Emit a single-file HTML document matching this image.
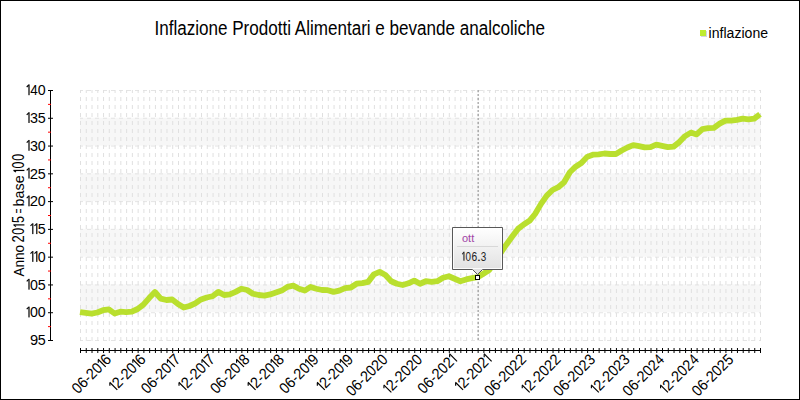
<!DOCTYPE html>
<html><head><meta charset="utf-8"><style>
html,body{margin:0;padding:0;background:#fff;width:800px;height:400px;overflow:hidden}
svg{display:block}
</style></head><body>
<svg width="800" height="400" viewBox="0 0 800 400">
<rect width="800" height="400" fill="#fff"/>
<rect x="80" y="117.78" width="681" height="27.78" fill="#f7f7f7"/>
<rect x="80" y="173.33" width="681" height="27.78" fill="#f7f7f7"/>
<rect x="80" y="228.89" width="681" height="27.78" fill="#f7f7f7"/>
<rect x="80" y="284.44" width="681" height="27.78" fill="#f7f7f7"/>
<line x1="80" y1="90.50" x2="761" y2="90.50" stroke="#e4e4e4" stroke-width="1" stroke-dasharray="4,4" stroke-dashoffset="1"/>
<line x1="80" y1="118.28" x2="761" y2="118.28" stroke="#e4e4e4" stroke-width="1" stroke-dasharray="4,4" stroke-dashoffset="1"/>
<line x1="80" y1="146.06" x2="761" y2="146.06" stroke="#e4e4e4" stroke-width="1" stroke-dasharray="4,4" stroke-dashoffset="1"/>
<line x1="80" y1="173.83" x2="761" y2="173.83" stroke="#e4e4e4" stroke-width="1" stroke-dasharray="4,4" stroke-dashoffset="1"/>
<line x1="80" y1="201.61" x2="761" y2="201.61" stroke="#e4e4e4" stroke-width="1" stroke-dasharray="4,4" stroke-dashoffset="1"/>
<line x1="80" y1="229.39" x2="761" y2="229.39" stroke="#e4e4e4" stroke-width="1" stroke-dasharray="4,4" stroke-dashoffset="1"/>
<line x1="80" y1="257.17" x2="761" y2="257.17" stroke="#e4e4e4" stroke-width="1" stroke-dasharray="4,4" stroke-dashoffset="1"/>
<line x1="80" y1="284.94" x2="761" y2="284.94" stroke="#e4e4e4" stroke-width="1" stroke-dasharray="4,4" stroke-dashoffset="1"/>
<line x1="80" y1="312.72" x2="761" y2="312.72" stroke="#e4e4e4" stroke-width="1" stroke-dasharray="4,4" stroke-dashoffset="1"/>
<line x1="80" y1="340.50" x2="761" y2="340.50" stroke="#e4e4e4" stroke-width="1" stroke-dasharray="4,4" stroke-dashoffset="1"/>
<line x1="80.50" y1="90" x2="80.50" y2="341" stroke="#e0e0e0" stroke-width="1" stroke-dasharray="4,4" stroke-dashoffset="1"/>
<line x1="86.26" y1="90" x2="86.26" y2="341" stroke="#e0e0e0" stroke-width="1" stroke-dasharray="4,4" stroke-dashoffset="1"/>
<line x1="92.03" y1="90" x2="92.03" y2="341" stroke="#e0e0e0" stroke-width="1" stroke-dasharray="4,4" stroke-dashoffset="1"/>
<line x1="97.79" y1="90" x2="97.79" y2="341" stroke="#e0e0e0" stroke-width="1" stroke-dasharray="4,4" stroke-dashoffset="1"/>
<line x1="103.55" y1="90" x2="103.55" y2="341" stroke="#e0e0e0" stroke-width="1" stroke-dasharray="4,4" stroke-dashoffset="1"/>
<line x1="109.31" y1="90" x2="109.31" y2="341" stroke="#e0e0e0" stroke-width="1" stroke-dasharray="4,4" stroke-dashoffset="1"/>
<line x1="115.08" y1="90" x2="115.08" y2="341" stroke="#e0e0e0" stroke-width="1" stroke-dasharray="4,4" stroke-dashoffset="1"/>
<line x1="120.84" y1="90" x2="120.84" y2="341" stroke="#e0e0e0" stroke-width="1" stroke-dasharray="4,4" stroke-dashoffset="1"/>
<line x1="126.60" y1="90" x2="126.60" y2="341" stroke="#e0e0e0" stroke-width="1" stroke-dasharray="4,4" stroke-dashoffset="1"/>
<line x1="132.36" y1="90" x2="132.36" y2="341" stroke="#e0e0e0" stroke-width="1" stroke-dasharray="4,4" stroke-dashoffset="1"/>
<line x1="138.13" y1="90" x2="138.13" y2="341" stroke="#e0e0e0" stroke-width="1" stroke-dasharray="4,4" stroke-dashoffset="1"/>
<line x1="143.89" y1="90" x2="143.89" y2="341" stroke="#e0e0e0" stroke-width="1" stroke-dasharray="4,4" stroke-dashoffset="1"/>
<line x1="149.65" y1="90" x2="149.65" y2="341" stroke="#e0e0e0" stroke-width="1" stroke-dasharray="4,4" stroke-dashoffset="1"/>
<line x1="155.42" y1="90" x2="155.42" y2="341" stroke="#e0e0e0" stroke-width="1" stroke-dasharray="4,4" stroke-dashoffset="1"/>
<line x1="161.18" y1="90" x2="161.18" y2="341" stroke="#e0e0e0" stroke-width="1" stroke-dasharray="4,4" stroke-dashoffset="1"/>
<line x1="166.94" y1="90" x2="166.94" y2="341" stroke="#e0e0e0" stroke-width="1" stroke-dasharray="4,4" stroke-dashoffset="1"/>
<line x1="172.70" y1="90" x2="172.70" y2="341" stroke="#e0e0e0" stroke-width="1" stroke-dasharray="4,4" stroke-dashoffset="1"/>
<line x1="178.47" y1="90" x2="178.47" y2="341" stroke="#e0e0e0" stroke-width="1" stroke-dasharray="4,4" stroke-dashoffset="1"/>
<line x1="184.23" y1="90" x2="184.23" y2="341" stroke="#e0e0e0" stroke-width="1" stroke-dasharray="4,4" stroke-dashoffset="1"/>
<line x1="189.99" y1="90" x2="189.99" y2="341" stroke="#e0e0e0" stroke-width="1" stroke-dasharray="4,4" stroke-dashoffset="1"/>
<line x1="195.75" y1="90" x2="195.75" y2="341" stroke="#e0e0e0" stroke-width="1" stroke-dasharray="4,4" stroke-dashoffset="1"/>
<line x1="201.52" y1="90" x2="201.52" y2="341" stroke="#e0e0e0" stroke-width="1" stroke-dasharray="4,4" stroke-dashoffset="1"/>
<line x1="207.28" y1="90" x2="207.28" y2="341" stroke="#e0e0e0" stroke-width="1" stroke-dasharray="4,4" stroke-dashoffset="1"/>
<line x1="213.04" y1="90" x2="213.04" y2="341" stroke="#e0e0e0" stroke-width="1" stroke-dasharray="4,4" stroke-dashoffset="1"/>
<line x1="218.81" y1="90" x2="218.81" y2="341" stroke="#e0e0e0" stroke-width="1" stroke-dasharray="4,4" stroke-dashoffset="1"/>
<line x1="224.57" y1="90" x2="224.57" y2="341" stroke="#e0e0e0" stroke-width="1" stroke-dasharray="4,4" stroke-dashoffset="1"/>
<line x1="230.33" y1="90" x2="230.33" y2="341" stroke="#e0e0e0" stroke-width="1" stroke-dasharray="4,4" stroke-dashoffset="1"/>
<line x1="236.09" y1="90" x2="236.09" y2="341" stroke="#e0e0e0" stroke-width="1" stroke-dasharray="4,4" stroke-dashoffset="1"/>
<line x1="241.86" y1="90" x2="241.86" y2="341" stroke="#e0e0e0" stroke-width="1" stroke-dasharray="4,4" stroke-dashoffset="1"/>
<line x1="247.62" y1="90" x2="247.62" y2="341" stroke="#e0e0e0" stroke-width="1" stroke-dasharray="4,4" stroke-dashoffset="1"/>
<line x1="253.38" y1="90" x2="253.38" y2="341" stroke="#e0e0e0" stroke-width="1" stroke-dasharray="4,4" stroke-dashoffset="1"/>
<line x1="259.14" y1="90" x2="259.14" y2="341" stroke="#e0e0e0" stroke-width="1" stroke-dasharray="4,4" stroke-dashoffset="1"/>
<line x1="264.91" y1="90" x2="264.91" y2="341" stroke="#e0e0e0" stroke-width="1" stroke-dasharray="4,4" stroke-dashoffset="1"/>
<line x1="270.67" y1="90" x2="270.67" y2="341" stroke="#e0e0e0" stroke-width="1" stroke-dasharray="4,4" stroke-dashoffset="1"/>
<line x1="276.43" y1="90" x2="276.43" y2="341" stroke="#e0e0e0" stroke-width="1" stroke-dasharray="4,4" stroke-dashoffset="1"/>
<line x1="282.19" y1="90" x2="282.19" y2="341" stroke="#e0e0e0" stroke-width="1" stroke-dasharray="4,4" stroke-dashoffset="1"/>
<line x1="287.96" y1="90" x2="287.96" y2="341" stroke="#e0e0e0" stroke-width="1" stroke-dasharray="4,4" stroke-dashoffset="1"/>
<line x1="293.72" y1="90" x2="293.72" y2="341" stroke="#e0e0e0" stroke-width="1" stroke-dasharray="4,4" stroke-dashoffset="1"/>
<line x1="299.48" y1="90" x2="299.48" y2="341" stroke="#e0e0e0" stroke-width="1" stroke-dasharray="4,4" stroke-dashoffset="1"/>
<line x1="305.25" y1="90" x2="305.25" y2="341" stroke="#e0e0e0" stroke-width="1" stroke-dasharray="4,4" stroke-dashoffset="1"/>
<line x1="311.01" y1="90" x2="311.01" y2="341" stroke="#e0e0e0" stroke-width="1" stroke-dasharray="4,4" stroke-dashoffset="1"/>
<line x1="316.77" y1="90" x2="316.77" y2="341" stroke="#e0e0e0" stroke-width="1" stroke-dasharray="4,4" stroke-dashoffset="1"/>
<line x1="322.53" y1="90" x2="322.53" y2="341" stroke="#e0e0e0" stroke-width="1" stroke-dasharray="4,4" stroke-dashoffset="1"/>
<line x1="328.30" y1="90" x2="328.30" y2="341" stroke="#e0e0e0" stroke-width="1" stroke-dasharray="4,4" stroke-dashoffset="1"/>
<line x1="334.06" y1="90" x2="334.06" y2="341" stroke="#e0e0e0" stroke-width="1" stroke-dasharray="4,4" stroke-dashoffset="1"/>
<line x1="339.82" y1="90" x2="339.82" y2="341" stroke="#e0e0e0" stroke-width="1" stroke-dasharray="4,4" stroke-dashoffset="1"/>
<line x1="345.58" y1="90" x2="345.58" y2="341" stroke="#e0e0e0" stroke-width="1" stroke-dasharray="4,4" stroke-dashoffset="1"/>
<line x1="351.35" y1="90" x2="351.35" y2="341" stroke="#e0e0e0" stroke-width="1" stroke-dasharray="4,4" stroke-dashoffset="1"/>
<line x1="357.11" y1="90" x2="357.11" y2="341" stroke="#e0e0e0" stroke-width="1" stroke-dasharray="4,4" stroke-dashoffset="1"/>
<line x1="362.87" y1="90" x2="362.87" y2="341" stroke="#e0e0e0" stroke-width="1" stroke-dasharray="4,4" stroke-dashoffset="1"/>
<line x1="368.64" y1="90" x2="368.64" y2="341" stroke="#e0e0e0" stroke-width="1" stroke-dasharray="4,4" stroke-dashoffset="1"/>
<line x1="374.40" y1="90" x2="374.40" y2="341" stroke="#e0e0e0" stroke-width="1" stroke-dasharray="4,4" stroke-dashoffset="1"/>
<line x1="380.16" y1="90" x2="380.16" y2="341" stroke="#e0e0e0" stroke-width="1" stroke-dasharray="4,4" stroke-dashoffset="1"/>
<line x1="385.92" y1="90" x2="385.92" y2="341" stroke="#e0e0e0" stroke-width="1" stroke-dasharray="4,4" stroke-dashoffset="1"/>
<line x1="391.69" y1="90" x2="391.69" y2="341" stroke="#e0e0e0" stroke-width="1" stroke-dasharray="4,4" stroke-dashoffset="1"/>
<line x1="397.45" y1="90" x2="397.45" y2="341" stroke="#e0e0e0" stroke-width="1" stroke-dasharray="4,4" stroke-dashoffset="1"/>
<line x1="403.21" y1="90" x2="403.21" y2="341" stroke="#e0e0e0" stroke-width="1" stroke-dasharray="4,4" stroke-dashoffset="1"/>
<line x1="408.97" y1="90" x2="408.97" y2="341" stroke="#e0e0e0" stroke-width="1" stroke-dasharray="4,4" stroke-dashoffset="1"/>
<line x1="414.74" y1="90" x2="414.74" y2="341" stroke="#e0e0e0" stroke-width="1" stroke-dasharray="4,4" stroke-dashoffset="1"/>
<line x1="420.50" y1="90" x2="420.50" y2="341" stroke="#e0e0e0" stroke-width="1" stroke-dasharray="4,4" stroke-dashoffset="1"/>
<line x1="426.26" y1="90" x2="426.26" y2="341" stroke="#e0e0e0" stroke-width="1" stroke-dasharray="4,4" stroke-dashoffset="1"/>
<line x1="432.03" y1="90" x2="432.03" y2="341" stroke="#e0e0e0" stroke-width="1" stroke-dasharray="4,4" stroke-dashoffset="1"/>
<line x1="437.79" y1="90" x2="437.79" y2="341" stroke="#e0e0e0" stroke-width="1" stroke-dasharray="4,4" stroke-dashoffset="1"/>
<line x1="443.55" y1="90" x2="443.55" y2="341" stroke="#e0e0e0" stroke-width="1" stroke-dasharray="4,4" stroke-dashoffset="1"/>
<line x1="449.31" y1="90" x2="449.31" y2="341" stroke="#e0e0e0" stroke-width="1" stroke-dasharray="4,4" stroke-dashoffset="1"/>
<line x1="455.08" y1="90" x2="455.08" y2="341" stroke="#e0e0e0" stroke-width="1" stroke-dasharray="4,4" stroke-dashoffset="1"/>
<line x1="460.84" y1="90" x2="460.84" y2="341" stroke="#e0e0e0" stroke-width="1" stroke-dasharray="4,4" stroke-dashoffset="1"/>
<line x1="466.60" y1="90" x2="466.60" y2="341" stroke="#e0e0e0" stroke-width="1" stroke-dasharray="4,4" stroke-dashoffset="1"/>
<line x1="472.36" y1="90" x2="472.36" y2="341" stroke="#e0e0e0" stroke-width="1" stroke-dasharray="4,4" stroke-dashoffset="1"/>
<line x1="478.13" y1="90" x2="478.13" y2="341" stroke="#e0e0e0" stroke-width="1" stroke-dasharray="4,4" stroke-dashoffset="1"/>
<line x1="483.89" y1="90" x2="483.89" y2="341" stroke="#e0e0e0" stroke-width="1" stroke-dasharray="4,4" stroke-dashoffset="1"/>
<line x1="489.65" y1="90" x2="489.65" y2="341" stroke="#e0e0e0" stroke-width="1" stroke-dasharray="4,4" stroke-dashoffset="1"/>
<line x1="495.42" y1="90" x2="495.42" y2="341" stroke="#e0e0e0" stroke-width="1" stroke-dasharray="4,4" stroke-dashoffset="1"/>
<line x1="501.18" y1="90" x2="501.18" y2="341" stroke="#e0e0e0" stroke-width="1" stroke-dasharray="4,4" stroke-dashoffset="1"/>
<line x1="506.94" y1="90" x2="506.94" y2="341" stroke="#e0e0e0" stroke-width="1" stroke-dasharray="4,4" stroke-dashoffset="1"/>
<line x1="512.70" y1="90" x2="512.70" y2="341" stroke="#e0e0e0" stroke-width="1" stroke-dasharray="4,4" stroke-dashoffset="1"/>
<line x1="518.47" y1="90" x2="518.47" y2="341" stroke="#e0e0e0" stroke-width="1" stroke-dasharray="4,4" stroke-dashoffset="1"/>
<line x1="524.23" y1="90" x2="524.23" y2="341" stroke="#e0e0e0" stroke-width="1" stroke-dasharray="4,4" stroke-dashoffset="1"/>
<line x1="529.99" y1="90" x2="529.99" y2="341" stroke="#e0e0e0" stroke-width="1" stroke-dasharray="4,4" stroke-dashoffset="1"/>
<line x1="535.75" y1="90" x2="535.75" y2="341" stroke="#e0e0e0" stroke-width="1" stroke-dasharray="4,4" stroke-dashoffset="1"/>
<line x1="541.52" y1="90" x2="541.52" y2="341" stroke="#e0e0e0" stroke-width="1" stroke-dasharray="4,4" stroke-dashoffset="1"/>
<line x1="547.28" y1="90" x2="547.28" y2="341" stroke="#e0e0e0" stroke-width="1" stroke-dasharray="4,4" stroke-dashoffset="1"/>
<line x1="553.04" y1="90" x2="553.04" y2="341" stroke="#e0e0e0" stroke-width="1" stroke-dasharray="4,4" stroke-dashoffset="1"/>
<line x1="558.81" y1="90" x2="558.81" y2="341" stroke="#e0e0e0" stroke-width="1" stroke-dasharray="4,4" stroke-dashoffset="1"/>
<line x1="564.57" y1="90" x2="564.57" y2="341" stroke="#e0e0e0" stroke-width="1" stroke-dasharray="4,4" stroke-dashoffset="1"/>
<line x1="570.33" y1="90" x2="570.33" y2="341" stroke="#e0e0e0" stroke-width="1" stroke-dasharray="4,4" stroke-dashoffset="1"/>
<line x1="576.09" y1="90" x2="576.09" y2="341" stroke="#e0e0e0" stroke-width="1" stroke-dasharray="4,4" stroke-dashoffset="1"/>
<line x1="581.86" y1="90" x2="581.86" y2="341" stroke="#e0e0e0" stroke-width="1" stroke-dasharray="4,4" stroke-dashoffset="1"/>
<line x1="587.62" y1="90" x2="587.62" y2="341" stroke="#e0e0e0" stroke-width="1" stroke-dasharray="4,4" stroke-dashoffset="1"/>
<line x1="593.38" y1="90" x2="593.38" y2="341" stroke="#e0e0e0" stroke-width="1" stroke-dasharray="4,4" stroke-dashoffset="1"/>
<line x1="599.14" y1="90" x2="599.14" y2="341" stroke="#e0e0e0" stroke-width="1" stroke-dasharray="4,4" stroke-dashoffset="1"/>
<line x1="604.91" y1="90" x2="604.91" y2="341" stroke="#e0e0e0" stroke-width="1" stroke-dasharray="4,4" stroke-dashoffset="1"/>
<line x1="610.67" y1="90" x2="610.67" y2="341" stroke="#e0e0e0" stroke-width="1" stroke-dasharray="4,4" stroke-dashoffset="1"/>
<line x1="616.43" y1="90" x2="616.43" y2="341" stroke="#e0e0e0" stroke-width="1" stroke-dasharray="4,4" stroke-dashoffset="1"/>
<line x1="622.19" y1="90" x2="622.19" y2="341" stroke="#e0e0e0" stroke-width="1" stroke-dasharray="4,4" stroke-dashoffset="1"/>
<line x1="627.96" y1="90" x2="627.96" y2="341" stroke="#e0e0e0" stroke-width="1" stroke-dasharray="4,4" stroke-dashoffset="1"/>
<line x1="633.72" y1="90" x2="633.72" y2="341" stroke="#e0e0e0" stroke-width="1" stroke-dasharray="4,4" stroke-dashoffset="1"/>
<line x1="639.48" y1="90" x2="639.48" y2="341" stroke="#e0e0e0" stroke-width="1" stroke-dasharray="4,4" stroke-dashoffset="1"/>
<line x1="645.25" y1="90" x2="645.25" y2="341" stroke="#e0e0e0" stroke-width="1" stroke-dasharray="4,4" stroke-dashoffset="1"/>
<line x1="651.01" y1="90" x2="651.01" y2="341" stroke="#e0e0e0" stroke-width="1" stroke-dasharray="4,4" stroke-dashoffset="1"/>
<line x1="656.77" y1="90" x2="656.77" y2="341" stroke="#e0e0e0" stroke-width="1" stroke-dasharray="4,4" stroke-dashoffset="1"/>
<line x1="662.53" y1="90" x2="662.53" y2="341" stroke="#e0e0e0" stroke-width="1" stroke-dasharray="4,4" stroke-dashoffset="1"/>
<line x1="668.30" y1="90" x2="668.30" y2="341" stroke="#e0e0e0" stroke-width="1" stroke-dasharray="4,4" stroke-dashoffset="1"/>
<line x1="674.06" y1="90" x2="674.06" y2="341" stroke="#e0e0e0" stroke-width="1" stroke-dasharray="4,4" stroke-dashoffset="1"/>
<line x1="679.82" y1="90" x2="679.82" y2="341" stroke="#e0e0e0" stroke-width="1" stroke-dasharray="4,4" stroke-dashoffset="1"/>
<line x1="685.58" y1="90" x2="685.58" y2="341" stroke="#e0e0e0" stroke-width="1" stroke-dasharray="4,4" stroke-dashoffset="1"/>
<line x1="691.35" y1="90" x2="691.35" y2="341" stroke="#e0e0e0" stroke-width="1" stroke-dasharray="4,4" stroke-dashoffset="1"/>
<line x1="697.11" y1="90" x2="697.11" y2="341" stroke="#e0e0e0" stroke-width="1" stroke-dasharray="4,4" stroke-dashoffset="1"/>
<line x1="702.87" y1="90" x2="702.87" y2="341" stroke="#e0e0e0" stroke-width="1" stroke-dasharray="4,4" stroke-dashoffset="1"/>
<line x1="708.64" y1="90" x2="708.64" y2="341" stroke="#e0e0e0" stroke-width="1" stroke-dasharray="4,4" stroke-dashoffset="1"/>
<line x1="714.40" y1="90" x2="714.40" y2="341" stroke="#e0e0e0" stroke-width="1" stroke-dasharray="4,4" stroke-dashoffset="1"/>
<line x1="720.16" y1="90" x2="720.16" y2="341" stroke="#e0e0e0" stroke-width="1" stroke-dasharray="4,4" stroke-dashoffset="1"/>
<line x1="725.92" y1="90" x2="725.92" y2="341" stroke="#e0e0e0" stroke-width="1" stroke-dasharray="4,4" stroke-dashoffset="1"/>
<line x1="731.69" y1="90" x2="731.69" y2="341" stroke="#e0e0e0" stroke-width="1" stroke-dasharray="4,4" stroke-dashoffset="1"/>
<line x1="737.45" y1="90" x2="737.45" y2="341" stroke="#e0e0e0" stroke-width="1" stroke-dasharray="4,4" stroke-dashoffset="1"/>
<line x1="743.21" y1="90" x2="743.21" y2="341" stroke="#e0e0e0" stroke-width="1" stroke-dasharray="4,4" stroke-dashoffset="1"/>
<line x1="748.97" y1="90" x2="748.97" y2="341" stroke="#e0e0e0" stroke-width="1" stroke-dasharray="4,4" stroke-dashoffset="1"/>
<line x1="754.74" y1="90" x2="754.74" y2="341" stroke="#e0e0e0" stroke-width="1" stroke-dasharray="4,4" stroke-dashoffset="1"/>
<line x1="760.50" y1="90" x2="760.50" y2="341" stroke="#e0e0e0" stroke-width="1" stroke-dasharray="4,4" stroke-dashoffset="1"/>
<line x1="50.5" y1="90" x2="50.5" y2="341" stroke="#000" stroke-width="1"/>
<line x1="48" y1="90.50" x2="53" y2="90.50" stroke="#000" stroke-width="1"/>
<line x1="48" y1="104.39" x2="51" y2="104.39" stroke="#f00" stroke-width="1"/>
<line x1="48" y1="118.28" x2="53" y2="118.28" stroke="#000" stroke-width="1"/>
<line x1="48" y1="132.17" x2="51" y2="132.17" stroke="#f00" stroke-width="1"/>
<line x1="48" y1="146.06" x2="53" y2="146.06" stroke="#000" stroke-width="1"/>
<line x1="48" y1="159.94" x2="51" y2="159.94" stroke="#f00" stroke-width="1"/>
<line x1="48" y1="173.83" x2="53" y2="173.83" stroke="#000" stroke-width="1"/>
<line x1="48" y1="187.72" x2="51" y2="187.72" stroke="#f00" stroke-width="1"/>
<line x1="48" y1="201.61" x2="53" y2="201.61" stroke="#000" stroke-width="1"/>
<line x1="48" y1="215.50" x2="51" y2="215.50" stroke="#f00" stroke-width="1"/>
<line x1="48" y1="229.39" x2="53" y2="229.39" stroke="#000" stroke-width="1"/>
<line x1="48" y1="243.28" x2="51" y2="243.28" stroke="#f00" stroke-width="1"/>
<line x1="48" y1="257.17" x2="53" y2="257.17" stroke="#000" stroke-width="1"/>
<line x1="48" y1="271.06" x2="51" y2="271.06" stroke="#f00" stroke-width="1"/>
<line x1="48" y1="284.94" x2="53" y2="284.94" stroke="#000" stroke-width="1"/>
<line x1="48" y1="298.83" x2="51" y2="298.83" stroke="#f00" stroke-width="1"/>
<line x1="48" y1="312.72" x2="53" y2="312.72" stroke="#000" stroke-width="1"/>
<line x1="48" y1="326.61" x2="51" y2="326.61" stroke="#f00" stroke-width="1"/>
<line x1="48" y1="340.50" x2="53" y2="340.50" stroke="#000" stroke-width="1"/>
<line x1="80" y1="350.5" x2="761" y2="350.5" stroke="#000" stroke-width="1"/>
<line x1="80.50" y1="348" x2="80.50" y2="353" stroke="#000" stroke-width="1"/>
<line x1="86.26" y1="348" x2="86.26" y2="353" stroke="#000" stroke-width="1"/>
<line x1="92.03" y1="348" x2="92.03" y2="353" stroke="#000" stroke-width="1"/>
<line x1="97.79" y1="348" x2="97.79" y2="353" stroke="#000" stroke-width="1"/>
<line x1="103.55" y1="348" x2="103.55" y2="353" stroke="#000" stroke-width="1"/>
<line x1="109.31" y1="348" x2="109.31" y2="353" stroke="#000" stroke-width="1"/>
<line x1="115.08" y1="348" x2="115.08" y2="353" stroke="#000" stroke-width="1"/>
<line x1="120.84" y1="348" x2="120.84" y2="353" stroke="#000" stroke-width="1"/>
<line x1="126.60" y1="348" x2="126.60" y2="353" stroke="#000" stroke-width="1"/>
<line x1="132.36" y1="348" x2="132.36" y2="353" stroke="#000" stroke-width="1"/>
<line x1="138.13" y1="348" x2="138.13" y2="353" stroke="#000" stroke-width="1"/>
<line x1="143.89" y1="348" x2="143.89" y2="353" stroke="#000" stroke-width="1"/>
<line x1="149.65" y1="348" x2="149.65" y2="353" stroke="#000" stroke-width="1"/>
<line x1="155.42" y1="348" x2="155.42" y2="353" stroke="#000" stroke-width="1"/>
<line x1="161.18" y1="348" x2="161.18" y2="353" stroke="#000" stroke-width="1"/>
<line x1="166.94" y1="348" x2="166.94" y2="353" stroke="#000" stroke-width="1"/>
<line x1="172.70" y1="348" x2="172.70" y2="353" stroke="#000" stroke-width="1"/>
<line x1="178.47" y1="348" x2="178.47" y2="353" stroke="#000" stroke-width="1"/>
<line x1="184.23" y1="348" x2="184.23" y2="353" stroke="#000" stroke-width="1"/>
<line x1="189.99" y1="348" x2="189.99" y2="353" stroke="#000" stroke-width="1"/>
<line x1="195.75" y1="348" x2="195.75" y2="353" stroke="#000" stroke-width="1"/>
<line x1="201.52" y1="348" x2="201.52" y2="353" stroke="#000" stroke-width="1"/>
<line x1="207.28" y1="348" x2="207.28" y2="353" stroke="#000" stroke-width="1"/>
<line x1="213.04" y1="348" x2="213.04" y2="353" stroke="#000" stroke-width="1"/>
<line x1="218.81" y1="348" x2="218.81" y2="353" stroke="#000" stroke-width="1"/>
<line x1="224.57" y1="348" x2="224.57" y2="353" stroke="#000" stroke-width="1"/>
<line x1="230.33" y1="348" x2="230.33" y2="353" stroke="#000" stroke-width="1"/>
<line x1="236.09" y1="348" x2="236.09" y2="353" stroke="#000" stroke-width="1"/>
<line x1="241.86" y1="348" x2="241.86" y2="353" stroke="#000" stroke-width="1"/>
<line x1="247.62" y1="348" x2="247.62" y2="353" stroke="#000" stroke-width="1"/>
<line x1="253.38" y1="348" x2="253.38" y2="353" stroke="#000" stroke-width="1"/>
<line x1="259.14" y1="348" x2="259.14" y2="353" stroke="#000" stroke-width="1"/>
<line x1="264.91" y1="348" x2="264.91" y2="353" stroke="#000" stroke-width="1"/>
<line x1="270.67" y1="348" x2="270.67" y2="353" stroke="#000" stroke-width="1"/>
<line x1="276.43" y1="348" x2="276.43" y2="353" stroke="#000" stroke-width="1"/>
<line x1="282.19" y1="348" x2="282.19" y2="353" stroke="#000" stroke-width="1"/>
<line x1="287.96" y1="348" x2="287.96" y2="353" stroke="#000" stroke-width="1"/>
<line x1="293.72" y1="348" x2="293.72" y2="353" stroke="#000" stroke-width="1"/>
<line x1="299.48" y1="348" x2="299.48" y2="353" stroke="#000" stroke-width="1"/>
<line x1="305.25" y1="348" x2="305.25" y2="353" stroke="#000" stroke-width="1"/>
<line x1="311.01" y1="348" x2="311.01" y2="353" stroke="#000" stroke-width="1"/>
<line x1="316.77" y1="348" x2="316.77" y2="353" stroke="#000" stroke-width="1"/>
<line x1="322.53" y1="348" x2="322.53" y2="353" stroke="#000" stroke-width="1"/>
<line x1="328.30" y1="348" x2="328.30" y2="353" stroke="#000" stroke-width="1"/>
<line x1="334.06" y1="348" x2="334.06" y2="353" stroke="#000" stroke-width="1"/>
<line x1="339.82" y1="348" x2="339.82" y2="353" stroke="#000" stroke-width="1"/>
<line x1="345.58" y1="348" x2="345.58" y2="353" stroke="#000" stroke-width="1"/>
<line x1="351.35" y1="348" x2="351.35" y2="353" stroke="#000" stroke-width="1"/>
<line x1="357.11" y1="348" x2="357.11" y2="353" stroke="#000" stroke-width="1"/>
<line x1="362.87" y1="348" x2="362.87" y2="353" stroke="#000" stroke-width="1"/>
<line x1="368.64" y1="348" x2="368.64" y2="353" stroke="#000" stroke-width="1"/>
<line x1="374.40" y1="348" x2="374.40" y2="353" stroke="#000" stroke-width="1"/>
<line x1="380.16" y1="348" x2="380.16" y2="353" stroke="#000" stroke-width="1"/>
<line x1="385.92" y1="348" x2="385.92" y2="353" stroke="#000" stroke-width="1"/>
<line x1="391.69" y1="348" x2="391.69" y2="353" stroke="#000" stroke-width="1"/>
<line x1="397.45" y1="348" x2="397.45" y2="353" stroke="#000" stroke-width="1"/>
<line x1="403.21" y1="348" x2="403.21" y2="353" stroke="#000" stroke-width="1"/>
<line x1="408.97" y1="348" x2="408.97" y2="353" stroke="#000" stroke-width="1"/>
<line x1="414.74" y1="348" x2="414.74" y2="353" stroke="#000" stroke-width="1"/>
<line x1="420.50" y1="348" x2="420.50" y2="353" stroke="#000" stroke-width="1"/>
<line x1="426.26" y1="348" x2="426.26" y2="353" stroke="#000" stroke-width="1"/>
<line x1="432.03" y1="348" x2="432.03" y2="353" stroke="#000" stroke-width="1"/>
<line x1="437.79" y1="348" x2="437.79" y2="353" stroke="#000" stroke-width="1"/>
<line x1="443.55" y1="348" x2="443.55" y2="353" stroke="#000" stroke-width="1"/>
<line x1="449.31" y1="348" x2="449.31" y2="353" stroke="#000" stroke-width="1"/>
<line x1="455.08" y1="348" x2="455.08" y2="353" stroke="#000" stroke-width="1"/>
<line x1="460.84" y1="348" x2="460.84" y2="353" stroke="#000" stroke-width="1"/>
<line x1="466.60" y1="348" x2="466.60" y2="353" stroke="#000" stroke-width="1"/>
<line x1="472.36" y1="348" x2="472.36" y2="353" stroke="#000" stroke-width="1"/>
<line x1="478.13" y1="348" x2="478.13" y2="353" stroke="#000" stroke-width="1"/>
<line x1="483.89" y1="348" x2="483.89" y2="353" stroke="#000" stroke-width="1"/>
<line x1="489.65" y1="348" x2="489.65" y2="353" stroke="#000" stroke-width="1"/>
<line x1="495.42" y1="348" x2="495.42" y2="353" stroke="#000" stroke-width="1"/>
<line x1="501.18" y1="348" x2="501.18" y2="353" stroke="#000" stroke-width="1"/>
<line x1="506.94" y1="348" x2="506.94" y2="353" stroke="#000" stroke-width="1"/>
<line x1="512.70" y1="348" x2="512.70" y2="353" stroke="#000" stroke-width="1"/>
<line x1="518.47" y1="348" x2="518.47" y2="353" stroke="#000" stroke-width="1"/>
<line x1="524.23" y1="348" x2="524.23" y2="353" stroke="#000" stroke-width="1"/>
<line x1="529.99" y1="348" x2="529.99" y2="353" stroke="#000" stroke-width="1"/>
<line x1="535.75" y1="348" x2="535.75" y2="353" stroke="#000" stroke-width="1"/>
<line x1="541.52" y1="348" x2="541.52" y2="353" stroke="#000" stroke-width="1"/>
<line x1="547.28" y1="348" x2="547.28" y2="353" stroke="#000" stroke-width="1"/>
<line x1="553.04" y1="348" x2="553.04" y2="353" stroke="#000" stroke-width="1"/>
<line x1="558.81" y1="348" x2="558.81" y2="353" stroke="#000" stroke-width="1"/>
<line x1="564.57" y1="348" x2="564.57" y2="353" stroke="#000" stroke-width="1"/>
<line x1="570.33" y1="348" x2="570.33" y2="353" stroke="#000" stroke-width="1"/>
<line x1="576.09" y1="348" x2="576.09" y2="353" stroke="#000" stroke-width="1"/>
<line x1="581.86" y1="348" x2="581.86" y2="353" stroke="#000" stroke-width="1"/>
<line x1="587.62" y1="348" x2="587.62" y2="353" stroke="#000" stroke-width="1"/>
<line x1="593.38" y1="348" x2="593.38" y2="353" stroke="#000" stroke-width="1"/>
<line x1="599.14" y1="348" x2="599.14" y2="353" stroke="#000" stroke-width="1"/>
<line x1="604.91" y1="348" x2="604.91" y2="353" stroke="#000" stroke-width="1"/>
<line x1="610.67" y1="348" x2="610.67" y2="353" stroke="#000" stroke-width="1"/>
<line x1="616.43" y1="348" x2="616.43" y2="353" stroke="#000" stroke-width="1"/>
<line x1="622.19" y1="348" x2="622.19" y2="353" stroke="#000" stroke-width="1"/>
<line x1="627.96" y1="348" x2="627.96" y2="353" stroke="#000" stroke-width="1"/>
<line x1="633.72" y1="348" x2="633.72" y2="353" stroke="#000" stroke-width="1"/>
<line x1="639.48" y1="348" x2="639.48" y2="353" stroke="#000" stroke-width="1"/>
<line x1="645.25" y1="348" x2="645.25" y2="353" stroke="#000" stroke-width="1"/>
<line x1="651.01" y1="348" x2="651.01" y2="353" stroke="#000" stroke-width="1"/>
<line x1="656.77" y1="348" x2="656.77" y2="353" stroke="#000" stroke-width="1"/>
<line x1="662.53" y1="348" x2="662.53" y2="353" stroke="#000" stroke-width="1"/>
<line x1="668.30" y1="348" x2="668.30" y2="353" stroke="#000" stroke-width="1"/>
<line x1="674.06" y1="348" x2="674.06" y2="353" stroke="#000" stroke-width="1"/>
<line x1="679.82" y1="348" x2="679.82" y2="353" stroke="#000" stroke-width="1"/>
<line x1="685.58" y1="348" x2="685.58" y2="353" stroke="#000" stroke-width="1"/>
<line x1="691.35" y1="348" x2="691.35" y2="353" stroke="#000" stroke-width="1"/>
<line x1="697.11" y1="348" x2="697.11" y2="353" stroke="#000" stroke-width="1"/>
<line x1="702.87" y1="348" x2="702.87" y2="353" stroke="#000" stroke-width="1"/>
<line x1="708.64" y1="348" x2="708.64" y2="353" stroke="#000" stroke-width="1"/>
<line x1="714.40" y1="348" x2="714.40" y2="353" stroke="#000" stroke-width="1"/>
<line x1="720.16" y1="348" x2="720.16" y2="353" stroke="#000" stroke-width="1"/>
<line x1="725.92" y1="348" x2="725.92" y2="353" stroke="#000" stroke-width="1"/>
<line x1="731.69" y1="348" x2="731.69" y2="353" stroke="#000" stroke-width="1"/>
<line x1="737.45" y1="348" x2="737.45" y2="353" stroke="#000" stroke-width="1"/>
<line x1="743.21" y1="348" x2="743.21" y2="353" stroke="#000" stroke-width="1"/>
<line x1="748.97" y1="348" x2="748.97" y2="353" stroke="#000" stroke-width="1"/>
<line x1="754.74" y1="348" x2="754.74" y2="353" stroke="#000" stroke-width="1"/>
<line x1="760.50" y1="348" x2="760.50" y2="353" stroke="#000" stroke-width="1"/>
<path d="M80.00,312.06 L85.76,312.89 L91.53,313.61 L97.29,312.50 L103.05,310.22 L108.81,309.44 L114.58,313.50 L120.34,311.67 L126.10,312.06 L131.86,311.67 L137.63,309.00 L143.39,304.67 L149.15,298.06 L154.92,292.00 L160.68,298.61 L166.44,300.00 L172.20,299.50 L177.97,304.00 L183.73,307.50 L189.49,306.00 L195.25,303.33 L201.02,299.39 L206.78,297.50 L212.54,296.22 L218.31,291.89 L224.07,295.00 L229.83,294.39 L235.59,291.89 L241.36,288.72 L247.12,290.00 L252.88,293.72 L258.64,295.00 L264.41,295.56 L270.17,294.39 L275.93,292.50 L281.69,290.61 L287.46,286.89 L293.22,285.61 L298.98,288.72 L304.75,290.61 L310.51,286.89 L316.27,288.72 L322.03,290.00 L327.80,290.22 L333.56,291.89 L339.32,290.61 L345.08,288.11 L350.85,287.50 L356.61,283.72 L362.37,283.11 L368.14,281.89 L373.90,274.39 L379.66,271.89 L385.42,275.00 L391.19,281.22 L396.95,283.72 L402.71,285.00 L408.47,283.33 L414.24,280.56 L420.00,283.72 L425.76,281.22 L431.53,281.89 L437.29,281.22 L443.05,277.72 L448.81,276.22 L454.58,278.72 L460.34,281.22 L466.10,279.39 L471.86,278.11 L477.63,277.22 L483.39,273.67 L489.15,270.00 L494.92,262.22 L500.68,252.78 L506.44,244.44 L512.20,236.50 L517.97,228.89 L523.73,224.44 L529.49,220.83 L535.25,213.72 L541.02,203.89 L546.78,195.56 L552.54,190.00 L558.31,187.22 L564.07,182.22 L569.83,172.22 L575.59,166.67 L581.36,163.06 L587.12,156.89 L592.88,154.72 L598.64,154.28 L604.41,153.50 L610.17,154.00 L615.93,154.00 L621.69,150.50 L627.46,147.50 L633.22,145.11 L638.98,146.11 L644.75,147.33 L650.51,147.11 L656.27,144.61 L662.03,145.83 L667.80,147.11 L673.56,146.61 L679.32,142.11 L685.08,136.11 L690.85,132.61 L696.61,134.44 L702.37,129.11 L708.14,128.11 L713.90,127.78 L719.66,123.61 L725.42,120.61 L731.19,120.56 L736.95,119.83 L742.71,118.61 L748.47,119.33 L754.24,118.61 L760.00,114.22" fill="none" stroke="#b9df2e" stroke-width="5.8" stroke-linejoin="round" stroke-linecap="butt"/>
<line x1="478.13" y1="90" x2="478.13" y2="341" stroke="#888" stroke-width="1" stroke-dasharray="2,2"/>
<g transform="translate(26.60,95.20)"><rect x="1.80" y="-10.80" width="1.20" height="10.80" fill="#000"/><path d="M0.10,-8.20 L2.10,-10.20" stroke="#000" stroke-width="1.14" fill="none"/><text x="0" y="0" font-family="Liberation Sans, sans-serif" font-size="15.47" fill="#000" transform="translate(3.69,0) scale(0.872,1)">4</text><text x="0" y="0" font-family="Liberation Sans, sans-serif" font-size="15.47" fill="#000" transform="translate(11.25,0) scale(0.919,1)">0</text></g>
<g transform="translate(26.60,122.98)"><rect x="1.80" y="-10.80" width="1.20" height="10.80" fill="#000"/><path d="M0.10,-8.20 L2.10,-10.20" stroke="#000" stroke-width="1.14" fill="none"/><text x="0" y="0" font-family="Liberation Sans, sans-serif" font-size="15.47" fill="#000" transform="translate(3.45,0) scale(0.927,1)">3</text><text x="0" y="0" font-family="Liberation Sans, sans-serif" font-size="15.47" fill="#000" transform="translate(11.23,0) scale(0.927,1)">5</text></g>
<g transform="translate(26.60,150.76)"><rect x="1.80" y="-10.80" width="1.20" height="10.80" fill="#000"/><path d="M0.10,-8.20 L2.10,-10.20" stroke="#000" stroke-width="1.14" fill="none"/><text x="0" y="0" font-family="Liberation Sans, sans-serif" font-size="15.47" fill="#000" transform="translate(3.45,0) scale(0.927,1)">3</text><text x="0" y="0" font-family="Liberation Sans, sans-serif" font-size="15.47" fill="#000" transform="translate(11.25,0) scale(0.919,1)">0</text></g>
<g transform="translate(26.60,178.53)"><rect x="1.80" y="-10.80" width="1.20" height="10.80" fill="#000"/><path d="M0.10,-8.20 L2.10,-10.20" stroke="#000" stroke-width="1.14" fill="none"/><text x="0" y="0" font-family="Liberation Sans, sans-serif" font-size="15.47" fill="#000" transform="translate(3.25,0) scale(0.964,1)">2</text><text x="0" y="0" font-family="Liberation Sans, sans-serif" font-size="15.47" fill="#000" transform="translate(11.23,0) scale(0.927,1)">5</text></g>
<g transform="translate(26.60,206.31)"><rect x="1.80" y="-10.80" width="1.20" height="10.80" fill="#000"/><path d="M0.10,-8.20 L2.10,-10.20" stroke="#000" stroke-width="1.14" fill="none"/><text x="0" y="0" font-family="Liberation Sans, sans-serif" font-size="15.47" fill="#000" transform="translate(3.25,0) scale(0.964,1)">2</text><text x="0" y="0" font-family="Liberation Sans, sans-serif" font-size="15.47" fill="#000" transform="translate(11.25,0) scale(0.919,1)">0</text></g>
<g transform="translate(30.40,234.09)"><rect x="1.80" y="-10.80" width="1.20" height="10.80" fill="#000"/><path d="M0.10,-8.20 L2.10,-10.20" stroke="#000" stroke-width="1.14" fill="none"/><rect x="5.80" y="-10.80" width="1.20" height="10.80" fill="#000"/><path d="M4.10,-8.20 L6.10,-10.20" stroke="#000" stroke-width="1.14" fill="none"/><text x="0" y="0" font-family="Liberation Sans, sans-serif" font-size="15.47" fill="#000" transform="translate(7.43,0) scale(0.927,1)">5</text></g>
<g transform="translate(30.40,261.87)"><rect x="1.80" y="-10.80" width="1.20" height="10.80" fill="#000"/><path d="M0.10,-8.20 L2.10,-10.20" stroke="#000" stroke-width="1.14" fill="none"/><rect x="5.80" y="-10.80" width="1.20" height="10.80" fill="#000"/><path d="M4.10,-8.20 L6.10,-10.20" stroke="#000" stroke-width="1.14" fill="none"/><text x="0" y="0" font-family="Liberation Sans, sans-serif" font-size="15.47" fill="#000" transform="translate(7.45,0) scale(0.919,1)">0</text></g>
<g transform="translate(26.60,289.64)"><rect x="1.80" y="-10.80" width="1.20" height="10.80" fill="#000"/><path d="M0.10,-8.20 L2.10,-10.20" stroke="#000" stroke-width="1.14" fill="none"/><text x="0" y="0" font-family="Liberation Sans, sans-serif" font-size="15.47" fill="#000" transform="translate(3.45,0) scale(0.919,1)">0</text><text x="0" y="0" font-family="Liberation Sans, sans-serif" font-size="15.47" fill="#000" transform="translate(11.23,0) scale(0.927,1)">5</text></g>
<g transform="translate(26.60,317.42)"><rect x="1.80" y="-10.80" width="1.20" height="10.80" fill="#000"/><path d="M0.10,-8.20 L2.10,-10.20" stroke="#000" stroke-width="1.14" fill="none"/><text x="0" y="0" font-family="Liberation Sans, sans-serif" font-size="15.47" fill="#000" transform="translate(3.45,0) scale(0.919,1)">0</text><text x="0" y="0" font-family="Liberation Sans, sans-serif" font-size="15.47" fill="#000" transform="translate(11.25,0) scale(0.919,1)">0</text></g>
<g transform="translate(30.60,345.20)"><text x="0" y="0" font-family="Liberation Sans, sans-serif" font-size="15.47" fill="#000" transform="translate(-0.69,0) scale(0.951,1)">9</text><text x="0" y="0" font-family="Liberation Sans, sans-serif" font-size="15.47" fill="#000" transform="translate(7.23,0) scale(0.927,1)">5</text></g>
<g transform="translate(111.71,360.9) rotate(-45) translate(-47.00,0)"><text x="0" y="0" font-family="Liberation Sans, sans-serif" font-size="15.47" fill="#000" transform="translate(-0.54,0) scale(0.892,1)">0</text><text x="0" y="0" font-family="Liberation Sans, sans-serif" font-size="15.47" fill="#000" transform="translate(7.17,0) scale(0.925,1)">6</text><text x="0" y="0" font-family="Liberation Sans, sans-serif" font-size="15.47" fill="#000" transform="translate(15.23,0) scale(0.844,1)">-</text><text x="0" y="0" font-family="Liberation Sans, sans-serif" font-size="15.47" fill="#000" transform="translate(19.58,0) scale(0.935,1)">2</text><text x="0" y="0" font-family="Liberation Sans, sans-serif" font-size="15.47" fill="#000" transform="translate(27.66,0) scale(0.892,1)">0</text><rect x="37.90" y="-10.80" width="1.20" height="10.80" fill="#000"/><path d="M36.20,-8.20 L38.20,-10.20" stroke="#000" stroke-width="1.14" fill="none"/><text x="0" y="0" font-family="Liberation Sans, sans-serif" font-size="15.47" fill="#000" transform="translate(39.67,0) scale(0.925,1)">6</text></g>
<g transform="translate(146.29,360.9) rotate(-45) translate(-43.40,0)"><rect x="1.80" y="-10.80" width="1.20" height="10.80" fill="#000"/><path d="M0.10,-8.20 L2.10,-10.20" stroke="#000" stroke-width="1.14" fill="none"/><text x="0" y="0" font-family="Liberation Sans, sans-serif" font-size="15.47" fill="#000" transform="translate(3.58,0) scale(0.935,1)">2</text><text x="0" y="0" font-family="Liberation Sans, sans-serif" font-size="15.47" fill="#000" transform="translate(11.63,0) scale(0.844,1)">-</text><text x="0" y="0" font-family="Liberation Sans, sans-serif" font-size="15.47" fill="#000" transform="translate(15.98,0) scale(0.935,1)">2</text><text x="0" y="0" font-family="Liberation Sans, sans-serif" font-size="15.47" fill="#000" transform="translate(24.06,0) scale(0.892,1)">0</text><rect x="34.30" y="-10.80" width="1.20" height="10.80" fill="#000"/><path d="M32.60,-8.20 L34.60,-10.20" stroke="#000" stroke-width="1.14" fill="none"/><text x="0" y="0" font-family="Liberation Sans, sans-serif" font-size="15.47" fill="#000" transform="translate(36.07,0) scale(0.925,1)">6</text></g>
<g transform="translate(180.87,360.9) rotate(-45) translate(-47.00,0)"><text x="0" y="0" font-family="Liberation Sans, sans-serif" font-size="15.47" fill="#000" transform="translate(-0.54,0) scale(0.892,1)">0</text><text x="0" y="0" font-family="Liberation Sans, sans-serif" font-size="15.47" fill="#000" transform="translate(7.17,0) scale(0.925,1)">6</text><text x="0" y="0" font-family="Liberation Sans, sans-serif" font-size="15.47" fill="#000" transform="translate(15.23,0) scale(0.844,1)">-</text><text x="0" y="0" font-family="Liberation Sans, sans-serif" font-size="15.47" fill="#000" transform="translate(19.58,0) scale(0.935,1)">2</text><text x="0" y="0" font-family="Liberation Sans, sans-serif" font-size="15.47" fill="#000" transform="translate(27.66,0) scale(0.892,1)">0</text><rect x="37.90" y="-10.80" width="1.20" height="10.80" fill="#000"/><path d="M36.20,-8.20 L38.20,-10.20" stroke="#000" stroke-width="1.14" fill="none"/><text x="0" y="0" font-family="Liberation Sans, sans-serif" font-size="15.47" fill="#000" transform="translate(39.66,0) scale(0.937,1)">7</text></g>
<g transform="translate(215.44,360.9) rotate(-45) translate(-43.40,0)"><rect x="1.80" y="-10.80" width="1.20" height="10.80" fill="#000"/><path d="M0.10,-8.20 L2.10,-10.20" stroke="#000" stroke-width="1.14" fill="none"/><text x="0" y="0" font-family="Liberation Sans, sans-serif" font-size="15.47" fill="#000" transform="translate(3.58,0) scale(0.935,1)">2</text><text x="0" y="0" font-family="Liberation Sans, sans-serif" font-size="15.47" fill="#000" transform="translate(11.63,0) scale(0.844,1)">-</text><text x="0" y="0" font-family="Liberation Sans, sans-serif" font-size="15.47" fill="#000" transform="translate(15.98,0) scale(0.935,1)">2</text><text x="0" y="0" font-family="Liberation Sans, sans-serif" font-size="15.47" fill="#000" transform="translate(24.06,0) scale(0.892,1)">0</text><rect x="34.30" y="-10.80" width="1.20" height="10.80" fill="#000"/><path d="M32.60,-8.20 L34.60,-10.20" stroke="#000" stroke-width="1.14" fill="none"/><text x="0" y="0" font-family="Liberation Sans, sans-serif" font-size="15.47" fill="#000" transform="translate(36.06,0) scale(0.937,1)">7</text></g>
<g transform="translate(250.02,360.9) rotate(-45) translate(-47.00,0)"><text x="0" y="0" font-family="Liberation Sans, sans-serif" font-size="15.47" fill="#000" transform="translate(-0.54,0) scale(0.892,1)">0</text><text x="0" y="0" font-family="Liberation Sans, sans-serif" font-size="15.47" fill="#000" transform="translate(7.17,0) scale(0.925,1)">6</text><text x="0" y="0" font-family="Liberation Sans, sans-serif" font-size="15.47" fill="#000" transform="translate(15.23,0) scale(0.844,1)">-</text><text x="0" y="0" font-family="Liberation Sans, sans-serif" font-size="15.47" fill="#000" transform="translate(19.58,0) scale(0.935,1)">2</text><text x="0" y="0" font-family="Liberation Sans, sans-serif" font-size="15.47" fill="#000" transform="translate(27.66,0) scale(0.892,1)">0</text><rect x="37.90" y="-10.80" width="1.20" height="10.80" fill="#000"/><path d="M36.20,-8.20 L38.20,-10.20" stroke="#000" stroke-width="1.14" fill="none"/><text x="0" y="0" font-family="Liberation Sans, sans-serif" font-size="15.47" fill="#000" transform="translate(39.80,0) scale(0.908,1)">8</text></g>
<g transform="translate(284.59,360.9) rotate(-45) translate(-43.40,0)"><rect x="1.80" y="-10.80" width="1.20" height="10.80" fill="#000"/><path d="M0.10,-8.20 L2.10,-10.20" stroke="#000" stroke-width="1.14" fill="none"/><text x="0" y="0" font-family="Liberation Sans, sans-serif" font-size="15.47" fill="#000" transform="translate(3.58,0) scale(0.935,1)">2</text><text x="0" y="0" font-family="Liberation Sans, sans-serif" font-size="15.47" fill="#000" transform="translate(11.63,0) scale(0.844,1)">-</text><text x="0" y="0" font-family="Liberation Sans, sans-serif" font-size="15.47" fill="#000" transform="translate(15.98,0) scale(0.935,1)">2</text><text x="0" y="0" font-family="Liberation Sans, sans-serif" font-size="15.47" fill="#000" transform="translate(24.06,0) scale(0.892,1)">0</text><rect x="34.30" y="-10.80" width="1.20" height="10.80" fill="#000"/><path d="M32.60,-8.20 L34.60,-10.20" stroke="#000" stroke-width="1.14" fill="none"/><text x="0" y="0" font-family="Liberation Sans, sans-serif" font-size="15.47" fill="#000" transform="translate(36.20,0) scale(0.908,1)">8</text></g>
<g transform="translate(319.17,360.9) rotate(-45) translate(-47.00,0)"><text x="0" y="0" font-family="Liberation Sans, sans-serif" font-size="15.47" fill="#000" transform="translate(-0.54,0) scale(0.892,1)">0</text><text x="0" y="0" font-family="Liberation Sans, sans-serif" font-size="15.47" fill="#000" transform="translate(7.17,0) scale(0.925,1)">6</text><text x="0" y="0" font-family="Liberation Sans, sans-serif" font-size="15.47" fill="#000" transform="translate(15.23,0) scale(0.844,1)">-</text><text x="0" y="0" font-family="Liberation Sans, sans-serif" font-size="15.47" fill="#000" transform="translate(19.58,0) scale(0.935,1)">2</text><text x="0" y="0" font-family="Liberation Sans, sans-serif" font-size="15.47" fill="#000" transform="translate(27.66,0) scale(0.892,1)">0</text><rect x="37.90" y="-10.80" width="1.20" height="10.80" fill="#000"/><path d="M36.20,-8.20 L38.20,-10.20" stroke="#000" stroke-width="1.14" fill="none"/><text x="0" y="0" font-family="Liberation Sans, sans-serif" font-size="15.47" fill="#000" transform="translate(39.73,0) scale(0.923,1)">9</text></g>
<g transform="translate(353.75,360.9) rotate(-45) translate(-43.40,0)"><rect x="1.80" y="-10.80" width="1.20" height="10.80" fill="#000"/><path d="M0.10,-8.20 L2.10,-10.20" stroke="#000" stroke-width="1.14" fill="none"/><text x="0" y="0" font-family="Liberation Sans, sans-serif" font-size="15.47" fill="#000" transform="translate(3.58,0) scale(0.935,1)">2</text><text x="0" y="0" font-family="Liberation Sans, sans-serif" font-size="15.47" fill="#000" transform="translate(11.63,0) scale(0.844,1)">-</text><text x="0" y="0" font-family="Liberation Sans, sans-serif" font-size="15.47" fill="#000" transform="translate(15.98,0) scale(0.935,1)">2</text><text x="0" y="0" font-family="Liberation Sans, sans-serif" font-size="15.47" fill="#000" transform="translate(24.06,0) scale(0.892,1)">0</text><rect x="34.30" y="-10.80" width="1.20" height="10.80" fill="#000"/><path d="M32.60,-8.20 L34.60,-10.20" stroke="#000" stroke-width="1.14" fill="none"/><text x="0" y="0" font-family="Liberation Sans, sans-serif" font-size="15.47" fill="#000" transform="translate(36.13,0) scale(0.923,1)">9</text></g>
<g transform="translate(388.32,360.9) rotate(-45) translate(-50.60,0)"><text x="0" y="0" font-family="Liberation Sans, sans-serif" font-size="15.47" fill="#000" transform="translate(-0.54,0) scale(0.892,1)">0</text><text x="0" y="0" font-family="Liberation Sans, sans-serif" font-size="15.47" fill="#000" transform="translate(7.17,0) scale(0.925,1)">6</text><text x="0" y="0" font-family="Liberation Sans, sans-serif" font-size="15.47" fill="#000" transform="translate(15.23,0) scale(0.844,1)">-</text><text x="0" y="0" font-family="Liberation Sans, sans-serif" font-size="15.47" fill="#000" transform="translate(19.58,0) scale(0.935,1)">2</text><text x="0" y="0" font-family="Liberation Sans, sans-serif" font-size="15.47" fill="#000" transform="translate(27.66,0) scale(0.892,1)">0</text><text x="0" y="0" font-family="Liberation Sans, sans-serif" font-size="15.47" fill="#000" transform="translate(35.38,0) scale(0.935,1)">2</text><text x="0" y="0" font-family="Liberation Sans, sans-serif" font-size="15.47" fill="#000" transform="translate(43.46,0) scale(0.892,1)">0</text></g>
<g transform="translate(422.90,360.9) rotate(-45) translate(-47.00,0)"><rect x="1.80" y="-10.80" width="1.20" height="10.80" fill="#000"/><path d="M0.10,-8.20 L2.10,-10.20" stroke="#000" stroke-width="1.14" fill="none"/><text x="0" y="0" font-family="Liberation Sans, sans-serif" font-size="15.47" fill="#000" transform="translate(3.58,0) scale(0.935,1)">2</text><text x="0" y="0" font-family="Liberation Sans, sans-serif" font-size="15.47" fill="#000" transform="translate(11.63,0) scale(0.844,1)">-</text><text x="0" y="0" font-family="Liberation Sans, sans-serif" font-size="15.47" fill="#000" transform="translate(15.98,0) scale(0.935,1)">2</text><text x="0" y="0" font-family="Liberation Sans, sans-serif" font-size="15.47" fill="#000" transform="translate(24.06,0) scale(0.892,1)">0</text><text x="0" y="0" font-family="Liberation Sans, sans-serif" font-size="15.47" fill="#000" transform="translate(31.78,0) scale(0.935,1)">2</text><text x="0" y="0" font-family="Liberation Sans, sans-serif" font-size="15.47" fill="#000" transform="translate(39.86,0) scale(0.892,1)">0</text></g>
<g transform="translate(457.48,360.9) rotate(-45) translate(-47.00,0)"><text x="0" y="0" font-family="Liberation Sans, sans-serif" font-size="15.47" fill="#000" transform="translate(-0.54,0) scale(0.892,1)">0</text><text x="0" y="0" font-family="Liberation Sans, sans-serif" font-size="15.47" fill="#000" transform="translate(7.17,0) scale(0.925,1)">6</text><text x="0" y="0" font-family="Liberation Sans, sans-serif" font-size="15.47" fill="#000" transform="translate(15.23,0) scale(0.844,1)">-</text><text x="0" y="0" font-family="Liberation Sans, sans-serif" font-size="15.47" fill="#000" transform="translate(19.58,0) scale(0.935,1)">2</text><text x="0" y="0" font-family="Liberation Sans, sans-serif" font-size="15.47" fill="#000" transform="translate(27.66,0) scale(0.892,1)">0</text><text x="0" y="0" font-family="Liberation Sans, sans-serif" font-size="15.47" fill="#000" transform="translate(35.38,0) scale(0.935,1)">2</text><rect x="45.80" y="-10.80" width="1.20" height="10.80" fill="#000"/><path d="M44.10,-8.20 L46.10,-10.20" stroke="#000" stroke-width="1.14" fill="none"/></g>
<g transform="translate(492.05,360.9) rotate(-45) translate(-43.40,0)"><rect x="1.80" y="-10.80" width="1.20" height="10.80" fill="#000"/><path d="M0.10,-8.20 L2.10,-10.20" stroke="#000" stroke-width="1.14" fill="none"/><text x="0" y="0" font-family="Liberation Sans, sans-serif" font-size="15.47" fill="#000" transform="translate(3.58,0) scale(0.935,1)">2</text><text x="0" y="0" font-family="Liberation Sans, sans-serif" font-size="15.47" fill="#000" transform="translate(11.63,0) scale(0.844,1)">-</text><text x="0" y="0" font-family="Liberation Sans, sans-serif" font-size="15.47" fill="#000" transform="translate(15.98,0) scale(0.935,1)">2</text><text x="0" y="0" font-family="Liberation Sans, sans-serif" font-size="15.47" fill="#000" transform="translate(24.06,0) scale(0.892,1)">0</text><text x="0" y="0" font-family="Liberation Sans, sans-serif" font-size="15.47" fill="#000" transform="translate(31.78,0) scale(0.935,1)">2</text><rect x="42.20" y="-10.80" width="1.20" height="10.80" fill="#000"/><path d="M40.50,-8.20 L42.50,-10.20" stroke="#000" stroke-width="1.14" fill="none"/></g>
<g transform="translate(526.63,360.9) rotate(-45) translate(-50.60,0)"><text x="0" y="0" font-family="Liberation Sans, sans-serif" font-size="15.47" fill="#000" transform="translate(-0.54,0) scale(0.892,1)">0</text><text x="0" y="0" font-family="Liberation Sans, sans-serif" font-size="15.47" fill="#000" transform="translate(7.17,0) scale(0.925,1)">6</text><text x="0" y="0" font-family="Liberation Sans, sans-serif" font-size="15.47" fill="#000" transform="translate(15.23,0) scale(0.844,1)">-</text><text x="0" y="0" font-family="Liberation Sans, sans-serif" font-size="15.47" fill="#000" transform="translate(19.58,0) scale(0.935,1)">2</text><text x="0" y="0" font-family="Liberation Sans, sans-serif" font-size="15.47" fill="#000" transform="translate(27.66,0) scale(0.892,1)">0</text><text x="0" y="0" font-family="Liberation Sans, sans-serif" font-size="15.47" fill="#000" transform="translate(35.38,0) scale(0.935,1)">2</text><text x="0" y="0" font-family="Liberation Sans, sans-serif" font-size="15.47" fill="#000" transform="translate(43.28,0) scale(0.935,1)">2</text></g>
<g transform="translate(561.21,360.9) rotate(-45) translate(-47.00,0)"><rect x="1.80" y="-10.80" width="1.20" height="10.80" fill="#000"/><path d="M0.10,-8.20 L2.10,-10.20" stroke="#000" stroke-width="1.14" fill="none"/><text x="0" y="0" font-family="Liberation Sans, sans-serif" font-size="15.47" fill="#000" transform="translate(3.58,0) scale(0.935,1)">2</text><text x="0" y="0" font-family="Liberation Sans, sans-serif" font-size="15.47" fill="#000" transform="translate(11.63,0) scale(0.844,1)">-</text><text x="0" y="0" font-family="Liberation Sans, sans-serif" font-size="15.47" fill="#000" transform="translate(15.98,0) scale(0.935,1)">2</text><text x="0" y="0" font-family="Liberation Sans, sans-serif" font-size="15.47" fill="#000" transform="translate(24.06,0) scale(0.892,1)">0</text><text x="0" y="0" font-family="Liberation Sans, sans-serif" font-size="15.47" fill="#000" transform="translate(31.78,0) scale(0.935,1)">2</text><text x="0" y="0" font-family="Liberation Sans, sans-serif" font-size="15.47" fill="#000" transform="translate(39.68,0) scale(0.935,1)">2</text></g>
<g transform="translate(595.78,360.9) rotate(-45) translate(-50.60,0)"><text x="0" y="0" font-family="Liberation Sans, sans-serif" font-size="15.47" fill="#000" transform="translate(-0.54,0) scale(0.892,1)">0</text><text x="0" y="0" font-family="Liberation Sans, sans-serif" font-size="15.47" fill="#000" transform="translate(7.17,0) scale(0.925,1)">6</text><text x="0" y="0" font-family="Liberation Sans, sans-serif" font-size="15.47" fill="#000" transform="translate(15.23,0) scale(0.844,1)">-</text><text x="0" y="0" font-family="Liberation Sans, sans-serif" font-size="15.47" fill="#000" transform="translate(19.58,0) scale(0.935,1)">2</text><text x="0" y="0" font-family="Liberation Sans, sans-serif" font-size="15.47" fill="#000" transform="translate(27.66,0) scale(0.892,1)">0</text><text x="0" y="0" font-family="Liberation Sans, sans-serif" font-size="15.47" fill="#000" transform="translate(35.38,0) scale(0.935,1)">2</text><text x="0" y="0" font-family="Liberation Sans, sans-serif" font-size="15.47" fill="#000" transform="translate(43.47,0) scale(0.900,1)">3</text></g>
<g transform="translate(630.36,360.9) rotate(-45) translate(-47.00,0)"><rect x="1.80" y="-10.80" width="1.20" height="10.80" fill="#000"/><path d="M0.10,-8.20 L2.10,-10.20" stroke="#000" stroke-width="1.14" fill="none"/><text x="0" y="0" font-family="Liberation Sans, sans-serif" font-size="15.47" fill="#000" transform="translate(3.58,0) scale(0.935,1)">2</text><text x="0" y="0" font-family="Liberation Sans, sans-serif" font-size="15.47" fill="#000" transform="translate(11.63,0) scale(0.844,1)">-</text><text x="0" y="0" font-family="Liberation Sans, sans-serif" font-size="15.47" fill="#000" transform="translate(15.98,0) scale(0.935,1)">2</text><text x="0" y="0" font-family="Liberation Sans, sans-serif" font-size="15.47" fill="#000" transform="translate(24.06,0) scale(0.892,1)">0</text><text x="0" y="0" font-family="Liberation Sans, sans-serif" font-size="15.47" fill="#000" transform="translate(31.78,0) scale(0.935,1)">2</text><text x="0" y="0" font-family="Liberation Sans, sans-serif" font-size="15.47" fill="#000" transform="translate(39.87,0) scale(0.900,1)">3</text></g>
<g transform="translate(664.93,360.9) rotate(-45) translate(-50.60,0)"><text x="0" y="0" font-family="Liberation Sans, sans-serif" font-size="15.47" fill="#000" transform="translate(-0.54,0) scale(0.892,1)">0</text><text x="0" y="0" font-family="Liberation Sans, sans-serif" font-size="15.47" fill="#000" transform="translate(7.17,0) scale(0.925,1)">6</text><text x="0" y="0" font-family="Liberation Sans, sans-serif" font-size="15.47" fill="#000" transform="translate(15.23,0) scale(0.844,1)">-</text><text x="0" y="0" font-family="Liberation Sans, sans-serif" font-size="15.47" fill="#000" transform="translate(19.58,0) scale(0.935,1)">2</text><text x="0" y="0" font-family="Liberation Sans, sans-serif" font-size="15.47" fill="#000" transform="translate(27.66,0) scale(0.892,1)">0</text><text x="0" y="0" font-family="Liberation Sans, sans-serif" font-size="15.47" fill="#000" transform="translate(35.38,0) scale(0.935,1)">2</text><text x="0" y="0" font-family="Liberation Sans, sans-serif" font-size="15.47" fill="#000" transform="translate(43.70,0) scale(0.846,1)">4</text></g>
<g transform="translate(699.51,360.9) rotate(-45) translate(-47.00,0)"><rect x="1.80" y="-10.80" width="1.20" height="10.80" fill="#000"/><path d="M0.10,-8.20 L2.10,-10.20" stroke="#000" stroke-width="1.14" fill="none"/><text x="0" y="0" font-family="Liberation Sans, sans-serif" font-size="15.47" fill="#000" transform="translate(3.58,0) scale(0.935,1)">2</text><text x="0" y="0" font-family="Liberation Sans, sans-serif" font-size="15.47" fill="#000" transform="translate(11.63,0) scale(0.844,1)">-</text><text x="0" y="0" font-family="Liberation Sans, sans-serif" font-size="15.47" fill="#000" transform="translate(15.98,0) scale(0.935,1)">2</text><text x="0" y="0" font-family="Liberation Sans, sans-serif" font-size="15.47" fill="#000" transform="translate(24.06,0) scale(0.892,1)">0</text><text x="0" y="0" font-family="Liberation Sans, sans-serif" font-size="15.47" fill="#000" transform="translate(31.78,0) scale(0.935,1)">2</text><text x="0" y="0" font-family="Liberation Sans, sans-serif" font-size="15.47" fill="#000" transform="translate(40.10,0) scale(0.846,1)">4</text></g>
<g transform="translate(734.09,360.9) rotate(-45) translate(-50.60,0)"><text x="0" y="0" font-family="Liberation Sans, sans-serif" font-size="15.47" fill="#000" transform="translate(-0.54,0) scale(0.892,1)">0</text><text x="0" y="0" font-family="Liberation Sans, sans-serif" font-size="15.47" fill="#000" transform="translate(7.17,0) scale(0.925,1)">6</text><text x="0" y="0" font-family="Liberation Sans, sans-serif" font-size="15.47" fill="#000" transform="translate(15.23,0) scale(0.844,1)">-</text><text x="0" y="0" font-family="Liberation Sans, sans-serif" font-size="15.47" fill="#000" transform="translate(19.58,0) scale(0.935,1)">2</text><text x="0" y="0" font-family="Liberation Sans, sans-serif" font-size="15.47" fill="#000" transform="translate(27.66,0) scale(0.892,1)">0</text><text x="0" y="0" font-family="Liberation Sans, sans-serif" font-size="15.47" fill="#000" transform="translate(35.38,0) scale(0.935,1)">2</text><text x="0" y="0" font-family="Liberation Sans, sans-serif" font-size="15.47" fill="#000" transform="translate(43.44,0) scale(0.900,1)">5</text></g>
<g transform="translate(24.4,276.5) rotate(-90)"><text x="0" y="0" font-family="Liberation Sans, sans-serif" font-size="15.5" fill="#000" transform="translate(-0.03,0) scale(0.873,1)">Anno</text><g transform="translate(34.60,0)"><text x="0" y="0" font-family="Liberation Sans, sans-serif" font-size="15.76" fill="#000" transform="translate(-0.65,0) scale(0.821,1)">2</text><text x="0" y="0" font-family="Liberation Sans, sans-serif" font-size="15.76" fill="#000" transform="translate(7.22,0) scale(0.783,1)">0</text><rect x="16.40" y="-11.00" width="1.20" height="11.00" fill="#000"/><path d="M15.50,-8.40 L16.70,-10.40" stroke="#000" stroke-width="1.14" fill="none"/><text x="0" y="0" font-family="Liberation Sans, sans-serif" font-size="15.76" fill="#000" transform="translate(18.90,0) scale(0.790,1)">5</text></g><text x="0" y="0" font-family="Liberation Sans, sans-serif" font-size="15.5" fill="#000" transform="translate(63.10,0) scale(0.531,1)">=</text><text x="0" y="0" font-family="Liberation Sans, sans-serif" font-size="15.5" fill="#000" transform="translate(70.07,0) scale(0.924,1)">base</text><g transform="translate(104.45,0)"><rect x="1.00" y="-11.00" width="1.20" height="11.00" fill="#000"/><path d="M0.10,-8.40 L1.30,-10.40" stroke="#000" stroke-width="1.14" fill="none"/><text x="0" y="0" font-family="Liberation Sans, sans-serif" font-size="15.76" fill="#000" transform="translate(3.52,0) scale(0.783,1)">0</text><text x="0" y="0" font-family="Liberation Sans, sans-serif" font-size="15.76" fill="#000" transform="translate(11.22,0) scale(0.783,1)">0</text></g></g>
<text x="0" y="0" font-family="Liberation Sans, sans-serif" font-size="19.5" fill="#000" transform="translate(154.5,34.8) scale(0.875,1)">Inflazione Prodotti Alimentari e bevande analcoliche</text>
<rect x="701" y="31" width="6" height="6" fill="#d4d4e2"/>
<rect x="700" y="30" width="6" height="6" fill="#bfec30"/>
<text x="0" y="0" font-family="Liberation Sans, sans-serif" font-size="15.5" fill="#000" transform="translate(708.56,38) scale(0.9096,1)">inflazione</text>
<defs><linearGradient id="tg" x1="0" y1="0" x2="0" y2="1"><stop offset="0" stop-color="#ffffff"/><stop offset="1" stop-color="#dedede"/></linearGradient></defs>
<path d="M452.5,227.5 H502.5 V269.5 H482.5 L477.5,274.5 L472.5,269.5 H452.5 Z" fill="url(#tg)" stroke="#585858" stroke-width="1"/>
<rect x="453.5" y="228.5" width="48" height="40" fill="none" stroke="#ffffff" stroke-opacity="0.85" stroke-width="1"/>
<line x1="457" y1="246.5" x2="498" y2="246.5" stroke="#d8d8d8" stroke-width="1"/>
<text x="0" y="0" font-family="Liberation Sans, sans-serif" font-size="11" fill="#a044a6" transform="translate(462,242) scale(1.0,1)">ott</text>
<g transform="translate(462.2,260.7)"><rect x="1.20" y="-9.00" width="1.10" height="9.00" fill="#222"/><path d="M0.10,-6.40 L1.50,-8.40" stroke="#222" stroke-width="1.04" fill="none"/><text x="0" y="0" font-family="Liberation Sans, sans-serif" font-size="12.89" fill="#222" transform="translate(3.37,0) scale(0.763,1)">0</text><text x="0" y="0" font-family="Liberation Sans, sans-serif" font-size="12.89" fill="#222" transform="translate(9.38,0) scale(0.791,1)">6</text><text x="0" y="0" font-family="Liberation Sans, sans-serif" font-size="12.89" fill="#222" transform="translate(14.63,0) scale(1.212,1)">.</text><text x="0" y="0" font-family="Liberation Sans, sans-serif" font-size="12.89" fill="#222" transform="translate(18.62,0) scale(0.769,1)">3</text></g>
<rect x="475.5" y="275.5" width="4" height="4" fill="#fff" stroke="#000" stroke-width="1"/>
<rect x="0.5" y="0.5" width="799" height="399" fill="none" stroke="#000" stroke-width="1"/>
</svg>
</body></html>
